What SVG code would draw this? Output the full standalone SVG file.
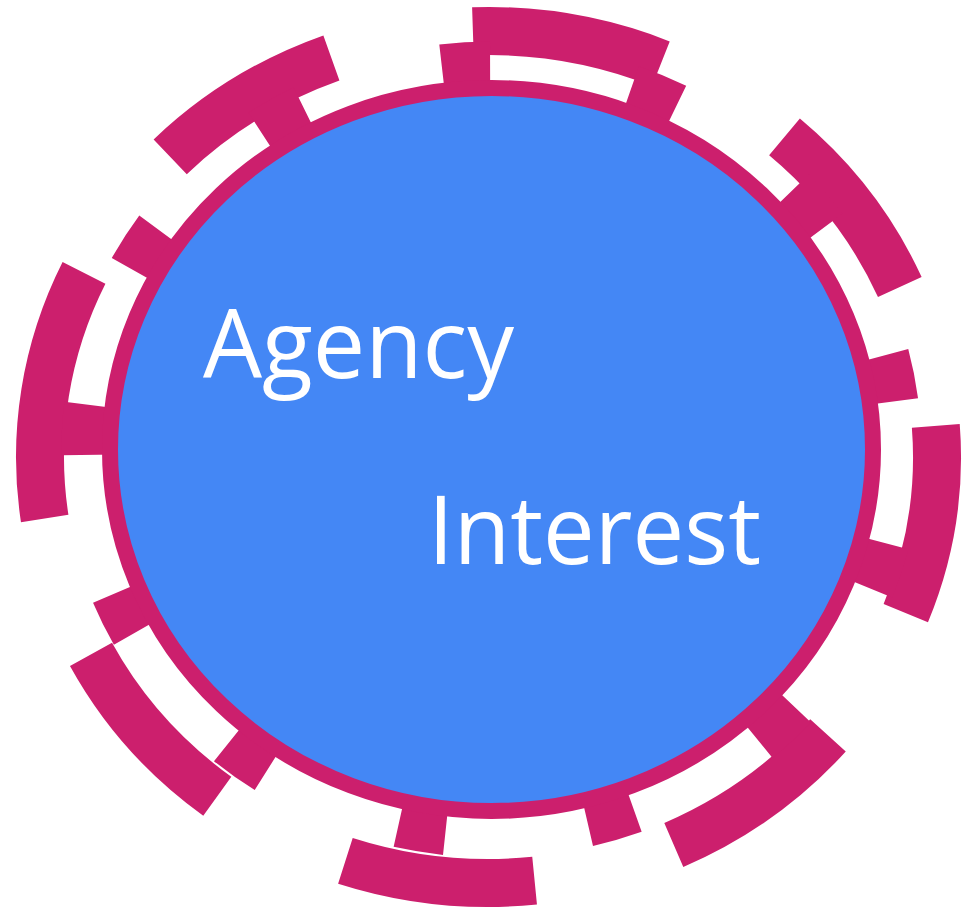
<svg xmlns="http://www.w3.org/2000/svg" width="971" height="909" viewBox="0 0 971 909">
  <style>
    .arc { fill: none; stroke: #CC1F6D; stroke-width: 48; stroke-linecap: butt; }
    .spoke { fill: none; stroke: #CC1F6D; stroke-width: 56; stroke-linecap: butt; }
    .hub { fill: #4487F5; stroke: #CC1F6D; stroke-width: 16; }
    .label { fill: #FFFFFF; font-family: "Open Sans", "Noto Sans", "Liberation Sans", sans-serif; font-size: 95px; }
  </style>
  <rect x="0" y="0" width="971" height="909" fill="#FFFFFF"/>

  <!-- outer broken rim: centre (488.5,457), radii 448.5 x 426 -->
  <g id="outer-rim">
    <path class="arc" d="M472.9 31.3 A448.5 426 0 0 1 660.9 63.7"/>
    <path class="arc" d="M784.5 136.9 A448.5 426 0 0 1 899.8 287.1"/>
    <path class="arc" d="M935.8 425.8 A448.5 426 0 0 1 905.8 613.1"/>
    <path class="arc" d="M828.0 735.4 A448.5 426 0 0 1 673.8 845.0"/>
    <path class="arc" d="M534.6 880.7 A448.5 426 0 0 1 345.4 860.8"/>
    <path class="arc" d="M217.3 796.3 A448.5 426 0 0 1 91.0 654.4"/>
    <path class="arc" d="M44.7 518.5 A448.5 426 0 0 1 84.0 272.9"/>
    <path class="arc" d="M170.2 156.8 A448.5 426 0 0 1 331.4 58.0"/>
  </g>

  <!-- short radial teeth joining the hub to the rim: centre (491.5,449.5), radii 402 x 380 -->
  <g id="teeth">
    <path class="spoke" d="M442.5 72.3 A402 380 0 0 1 490.1 69.5"/>
    <path class="spoke" d="M629.7 92.6 A402 380 0 0 1 674.0 110.9"/>
    <path class="spoke" d="M788.8 193.8 A402 380 0 0 1 820.0 230.5"/>
    <path class="spoke" d="M881.2 356.3 A402 380 0 0 1 890.3 401.9"/>
    <path class="spoke" d="M881.4 542.1 A402 380 0 0 1 866.3 586.9"/>
    <path class="spoke" d="M790.7 703.3 A402 380 0 0 1 755.0 736.5"/>
    <path class="spoke" d="M632.3 805.4 A402 380 0 0 1 586.7 818.7"/>
    <path class="spoke" d="M446.0 827.1 A402 380 0 0 1 399.7 819.5"/>
    <path class="spoke" d="M269.6 766.4 A402 380 0 0 1 231.5 739.3"/>
    <path class="spoke" d="M138.2 630.8 A402 380 0 0 1 118.8 591.8"/>
    <path class="spoke" d="M89.5 454.8 A402 380 0 0 1 92.2 405.2"/>
    <path class="spoke" d="M136.2 271.7 A402 380 0 0 1 161.8 232.1"/>
    <path class="spoke" d="M263.8 136.3 A402 380 0 0 1 305.9 112.4"/>
  </g>

  <!-- central hub -->
  <g id="hub">
    <ellipse class="hub" cx="491.5" cy="449.5" rx="381.5" ry="361.5"/>
  </g>

  <g id="label-agency">
    <text class="label" x="203" y="378" textLength="311" lengthAdjust="spacingAndGlyphs">Agency</text>
  </g>
  <g id="label-interest">
    <text class="label" x="428" y="564" textLength="333" lengthAdjust="spacingAndGlyphs">Interest</text>
  </g>
</svg>
